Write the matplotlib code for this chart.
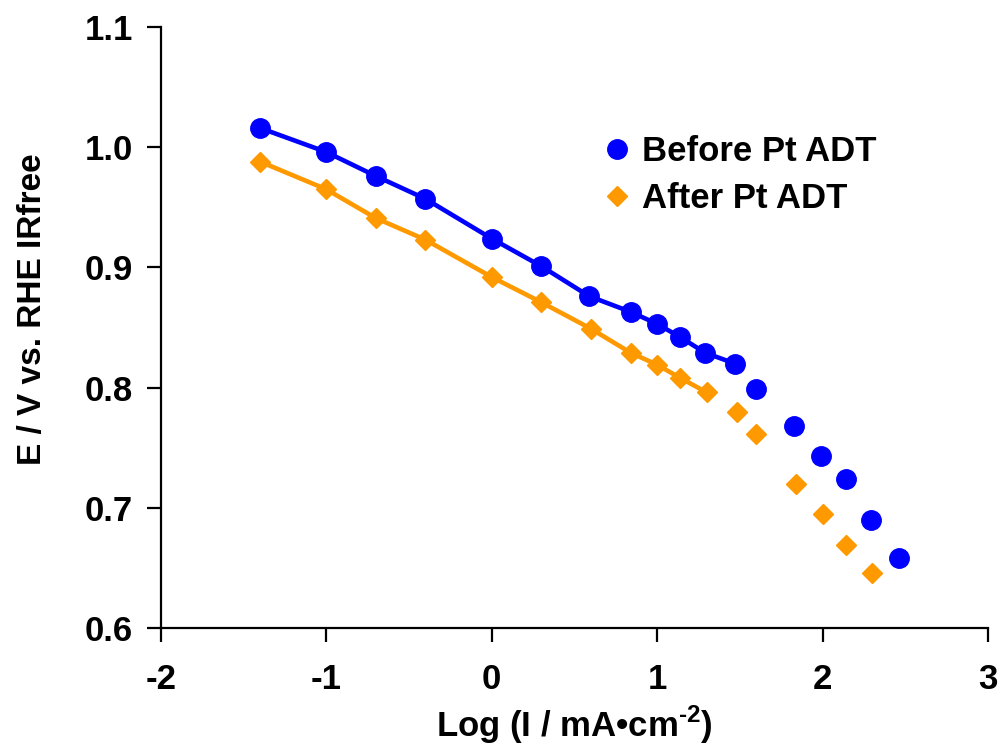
import matplotlib.pyplot as plt

# log current density (mA/cm2) and iR-free potential (V vs RHE)
log_i_before = [-1.40, -1.00, -0.70, -0.40, 0.00, 0.30, 0.59, 0.84, 1.00, 1.14, 1.29, 1.47,
                1.60, 1.83, 1.99, 2.14, 2.29, 2.46]
e_before = [1.016, 0.996, 0.976, 0.957, 0.924, 0.901, 0.876, 0.863, 0.853, 0.842, 0.829, 0.820,
            0.799, 0.768, 0.743, 0.724, 0.690, 0.658]

log_i_after = [-1.40, -1.00, -0.70, -0.40, 0.00, 0.30, 0.60, 0.84, 1.00, 1.14, 1.30, 1.48,
               1.60, 1.84, 2.00, 2.14, 2.30]
e_after = [0.988, 0.965, 0.941, 0.923, 0.892, 0.871, 0.849, 0.829, 0.819, 0.808, 0.796, 0.780,
           0.761, 0.720, 0.695, 0.669, 0.646]

# number of points covered by the Tafel line
n_fit_before = 12
n_fit_after = 11

blue = '#0000FF'
orange = '#FF9900'

plt.rcParams['font.family'] = ['Liberation Sans', 'DejaVu Sans']
plt.rcParams['font.weight'] = 'bold'
plt.rcParams['axes.unicode_minus'] = False
plt.rcParams['mathtext.fontset'] = 'custom'
plt.rcParams['mathtext.rm'] = 'Liberation Sans:bold'
plt.rcParams['mathtext.bf'] = 'Liberation Sans:bold'

fig = plt.figure(figsize=(9.98, 7.49), dpi=100)
ax = fig.add_axes([0.161, 0.1615, 0.829, 0.8025])

ax.plot(log_i_before[:n_fit_before], e_before[:n_fit_before], color=blue, lw=3.3)
ax.plot(log_i_after[:n_fit_after], e_after[:n_fit_after], color=orange, lw=3.3)
ax.plot(log_i_before, e_before, 'o', color=blue, ms=14, label='Before Pt ADT')
ax.plot(log_i_after, e_after, 'D', color=orange, ms=10, label='After Pt ADT')

ax.set_xlim(-2, 3)
ax.set_ylim(0.6, 1.1)
ax.set_xticks([-2, -1, 0, 1, 2, 3])
ax.set_xticklabels(['-2', '-1', '0', '1', '2', '3'])
ax.set_yticks([0.6, 0.7, 0.8, 0.9, 1.0, 1.1])
ax.set_yticklabels(['0.6', '0.7', '0.8', '0.9', '1.0', '1.1'])

for s in ['top', 'right']:
    ax.spines[s].set_visible(False)
for s in ['left', 'bottom']:
    ax.spines[s].set_linewidth(1.6)
ax.tick_params(direction='out', length=10, width=1.6, labelsize=25, pad=10)
ax.tick_params(axis='x', pad=15)

ax.set_xlabel('Log (I / mA\u2022cm$^{\\text{-2}}$)', fontsize=25, fontweight='bold', labelpad=6)
ax.set_ylabel('E / V vs. RHE IRfree', fontsize=24, fontweight='bold')
ax.yaxis.set_label_coords(-0.136, 0.53)

leg = ax.legend(loc='upper left', bbox_to_anchor=(0.535, 0.82), frameon=False,
                fontsize=25, handlelength=0.8, handletextpad=0.3, borderpad=0,
                borderaxespad=0, labelspacing=0.4)

plt.savefig('out.png', dpi=100)
